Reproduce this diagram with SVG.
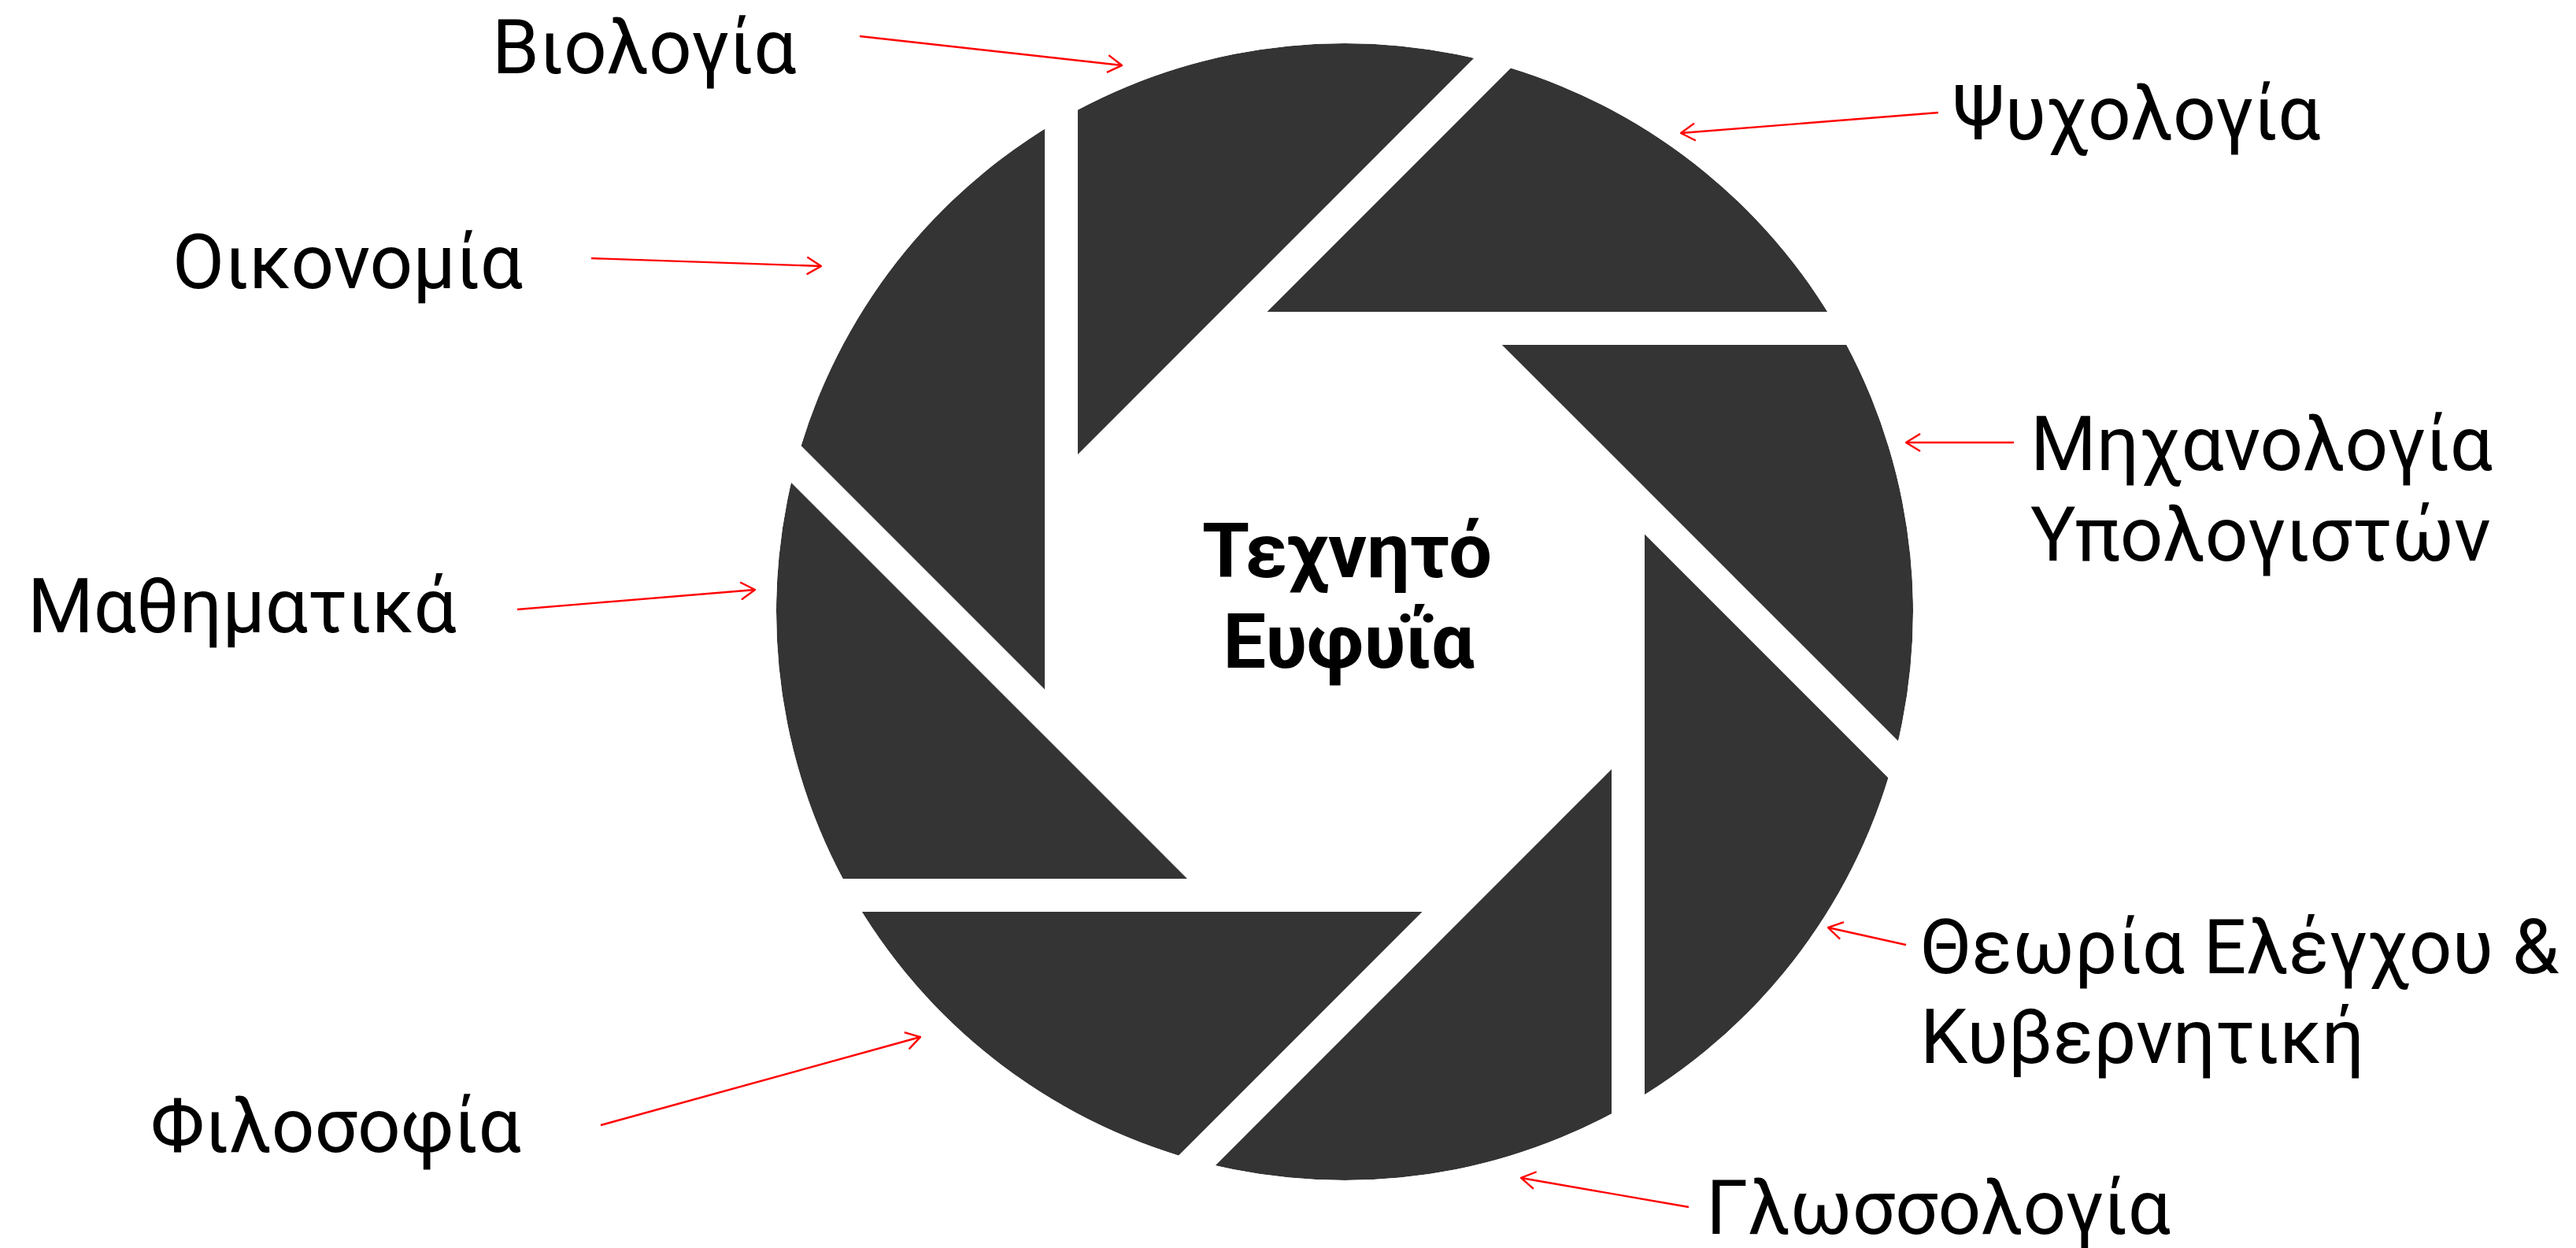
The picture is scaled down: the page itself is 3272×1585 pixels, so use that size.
<svg xmlns="http://www.w3.org/2000/svg" width="3272" height="1585" viewBox="0 0 3272 1585">
  <style>
    .lbl { font-family: Roboto, "Noto Sans", "DejaVu Sans", sans-serif; font-size: 96px; fill: #000; }
    .title { font-family: Roboto, "Noto Sans", "DejaVu Sans", sans-serif; font-size: 97px; font-weight: bold; fill: #000; text-anchor: middle; }
    .arrow { stroke: #ff0000; stroke-width: 2.4; fill: none; marker-end: url(#chev); }
    .cut { stroke: #000; stroke-width: 42; stroke-linecap: butt; fill: none; }
  </style>
  <defs>
    <marker id="chev" viewBox="0 0 20 24" refX="19" refY="12" markerWidth="20" markerHeight="24" markerUnits="userSpaceOnUse" orient="auto">
      <path d="M1,1 L19,12 L1,23" fill="none" stroke="#ff0000" stroke-width="2.4"/>
    </marker>
    <mask id="blades" maskUnits="userSpaceOnUse" x="0" y="0" width="3272" height="1585">
      <rect x="0" y="0" width="3272" height="1585" fill="#000"/>
      <circle cx="1708" cy="777" r="722" fill="#fff"/>
      <polygon points="1348,627.9 1558.9,417 1857.1,417 2068,627.9 2068,926.1 1857.1,1137 1558.9,1137 1348,926.1" fill="#000"/>
      <line class="cut" x1="1348" y1="926.1" x2="1348" y2="117"/>
      <line class="cut" x1="1348" y1="627.8" x2="1920.1" y2="55.7"/>
      <line class="cut" x1="1558.9" y1="417" x2="2368" y2="417"/>
      <line class="cut" x1="1857.2" y1="417" x2="2429.3" y2="989.1"/>
      <line class="cut" x1="2068" y1="627.9" x2="2068" y2="1437"/>
      <line class="cut" x1="2068" y1="926.2" x2="1495.9" y2="1498.3"/>
      <line class="cut" x1="1857.1" y1="1137" x2="1048" y2="1137"/>
      <line class="cut" x1="1558.8" y1="1137" x2="986.7" y2="564.9"/>
    </mask>
  </defs>
  <rect x="0" y="0" width="3272" height="1585" fill="#ffffff"/>

  <g id="aperture">
    <circle cx="1708" cy="777" r="722" fill="#343434" mask="url(#blades)"/>
  </g>

  <g id="center">
    <text class="title" x="1711" y="733">Τεχνητό</text>
    <text class="title" x="1713" y="848">Ευφυΐα</text>
  </g>

  <g id="connectors">
    <line class="arrow" x1="1092" y1="46" x2="1425" y2="83"/>
    <line class="arrow" x1="2462" y1="143" x2="2135" y2="169"/>
    <line class="arrow" x1="751" y1="328" x2="1043" y2="338"/>
    <line class="arrow" x1="2558" y1="562" x2="2421" y2="562"/>
    <line class="arrow" x1="657" y1="774" x2="959" y2="749"/>
    <line class="arrow" x1="2421" y1="1200" x2="2322" y2="1178"/>
    <line class="arrow" x1="763" y1="1429" x2="1169" y2="1317"/>
    <line class="arrow" x1="2145" y1="1533" x2="1932" y2="1496"/>
  </g>

  <g id="biologia"><text class="lbl" x="625" y="93">Βιολογία</text></g>
  <g id="psychologia"><text class="lbl" x="2480" y="177">Ψυχολογία</text></g>
  <g id="oikonomia"><text class="lbl" x="219" y="366">Οικονομία</text></g>
  <g id="michanologia">
    <text class="lbl" x="2579" y="597">Μηχανολογία</text>
    <text class="lbl" x="2579" y="712">Υπολογιστών</text>
  </g>
  <g id="mathimatika"><text class="lbl" x="35" y="803">Μαθηματικά</text></g>
  <g id="theoria">
    <text class="lbl" x="2439" y="1236">Θεωρία Ελέγχου &amp;</text>
    <text class="lbl" x="2439" y="1350">Κυβερνητική</text>
  </g>
  <g id="filosofia"><text class="lbl" x="191" y="1463">Φιλοσοφία</text></g>
  <g id="glossologia"><text class="lbl" x="2167" y="1567">Γλωσσολογία</text></g>
</svg>
